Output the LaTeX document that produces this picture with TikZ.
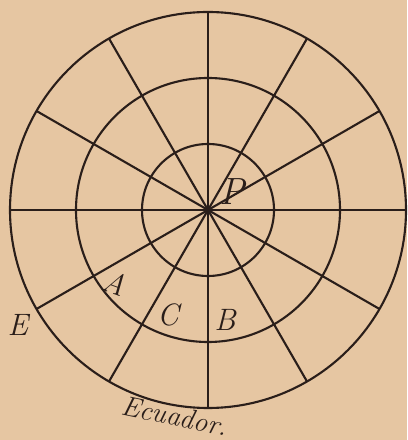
\documentclass[tikz,border=0pt]{standalone}
\usepackage{tikz}
\usetikzlibrary{positioning}
\definecolor{paper}{HTML}{E6C6A2}
\definecolor{ink}{HTML}{2A1E1A}

\begin{document}
\begin{tikzpicture}[
  every node/.style={font=\itshape\fontsize{22}{24}\selectfont, text=ink, inner sep=0pt},
  grid/.style={draw=ink, line width=1.5pt}
]
  % Page = 407 x 440 px, 0.025 cm per px
  \fill[paper] (0,0) rectangle (10.175,11);
  \useasboundingbox (0,0) rectangle (10.175,11);

  % Pole and radii of the three parallels
  \def\cx{5.2}\def\cy{5.75}
  \def\ra{1.65}\def\rb{3.3}\def\rc{4.95}
  \coordinate (pole) at (\cx,\cy);

  \begin{scope}[shift={(pole)}]
    % parallels
    \draw[grid] (0,0) circle (\ra);
    \draw[grid] (0,0) circle (\rb);
    \draw[grid] (0,0) circle (\rc);  % equator
    % meridians: just type out each diameter
    \draw[grid] (0:\rc)   -- (180:\rc);
    \draw[grid] (30:\rc)  -- (210:\rc);
    \draw[grid] (60:\rc)  -- (240:\rc);
    \draw[grid] (90:\rc)  -- (270:\rc);
    \draw[grid] (120:\rc) -- (300:\rc);
    \draw[grid] (150:\rc) -- (330:\rc);
    \fill[ink] (0,0) circle (1.8pt);
  \end{scope}

  % Labels
  \node[font=\itshape\fontsize{27}{28}\selectfont] (P) at (5.8, 6.2) {P};
  \node[rotate=-20] (A) at (2.875, 3.925) {A};
  \node (C) at (4.2, 3.125) {C};
  \node (B) at (5.625, 3.0) {B};
  \node (E) at (0.45, 2.875) {E};
  \node[font=\itshape\fontsize{20}{24}\selectfont, rotate=-12] (equator) at (4.375, 0.6) {Ecuador.};
\end{tikzpicture}
\end{document}
